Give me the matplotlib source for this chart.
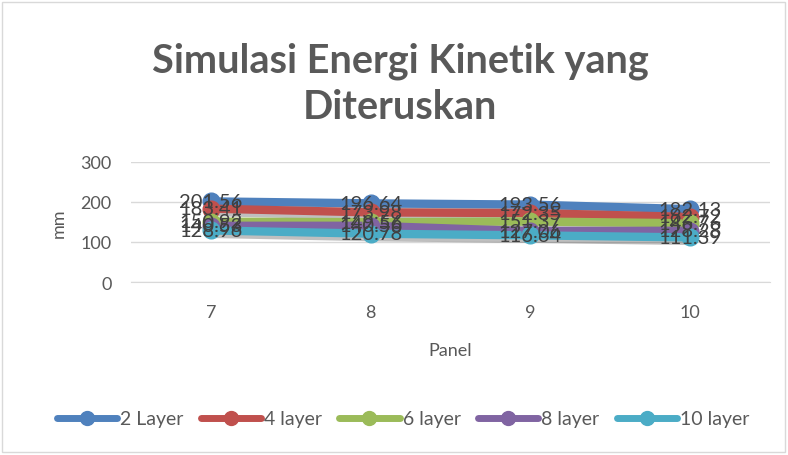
import matplotlib.pyplot as plt
import matplotlib.patheffects as pe
from matplotlib.patches import Rectangle
from matplotlib.lines import Line2D

plt.rcParams['font.family'] = ['Lato', 'DejaVu Sans']

panels = ["7", "8", "9", "10"]
layer_2 = [201.56, 196.64, 193.56, 182.13]
layer_4 = [183.41, 173.98, 172.35, 162.72]
layer_6 = [150.92, 149.56, 151.37, 146.76]
layer_8 = [140.53, 140.56, 127.06, 128.28]
layer_10 = [128.96, 120.78, 116.64, 111.39]

series = [
    ("2 Layer", layer_2, "#4F81BD"),
    ("4 layer", layer_4, "#C0504D"),
    ("6 layer", layer_6, "#9BBB59"),
    ("8 layer", layer_8, "#8064A2"),
    ("10 layer", layer_10, "#4BACC6"),
]

fig = plt.figure(figsize=(7.88, 4.56), dpi=100)
ax = fig.add_axes([131 / 788, 1 - 283 / 456, 639 / 788, 120 / 456])

# lines get a soft drop shadow, markers drawn on top
shadow = [pe.SimpleLineShadow(offset=(1.5, -2.5), alpha=0.25, shadow_color="black"), pe.Normal()]
x = range(len(panels))
handles = []
for name, vals, col in series:
    ax.plot(x, vals, color=col, lw=6, solid_capstyle="round", path_effects=shadow, zorder=3)
    ax.plot(x, vals, color=col, lw=0, marker="o", ms=12, zorder=4)
    handles.append(Line2D([], [], color=col, lw=5, marker="o", ms=10, label=name,
                          solid_capstyle="round"))
for name, vals, col in series:
    for i, v in enumerate(vals):
        ax.text(i, v, f"{v:.2f}", ha="center", va="center", fontsize=14.5,
                color="#404040", zorder=5)

ax.set_xlim(-0.5, 3.5)
ax.set_ylim(0, 300)
ax.set_yticks([0, 100, 200, 300])
ax.set_xticks(list(x))
ax.set_xticklabels(panels)
ax.grid(axis="y", color="#D9D9D9", lw=1)
ax.set_axisbelow(True)
for s in ["top", "right", "left"]:
    ax.spines[s].set_visible(False)
ax.spines["bottom"].set_color("#D9D9D9")
ax.tick_params(length=0, labelsize=13, colors="#595959")
ax.tick_params(axis="x", pad=16)
ax.tick_params(axis="y", pad=14)
ax.set_ylabel("mm", fontsize=13, color="#595959", labelpad=10)
ax.set_xlabel("Panel", fontsize=13, color="#595959", labelpad=16)

fig.text(400 / 788, 1 - 84 / 456, "Simulasi Energi Kinetik yang\nDiteruskan", ha="center",
         va="center", fontsize=28.5, fontweight="bold", color="#595959", linespacing=1.3)

fig.legend(handles=handles, loc="center", bbox_to_anchor=(403 / 788, 1 - 420 / 456), ncol=5,
           frameon=False, fontsize=14, handlelength=3.1, columnspacing=0.9, handletextpad=0.15,
           labelcolor="#595959")

fig.patches.append(Rectangle((2 / 788, 3 / 456), 783 / 788, 450 / 456, transform=fig.transFigure,
                             fill=False, edgecolor="#D9D9D9", lw=1))

fig.savefig("out.png", dpi=100)
